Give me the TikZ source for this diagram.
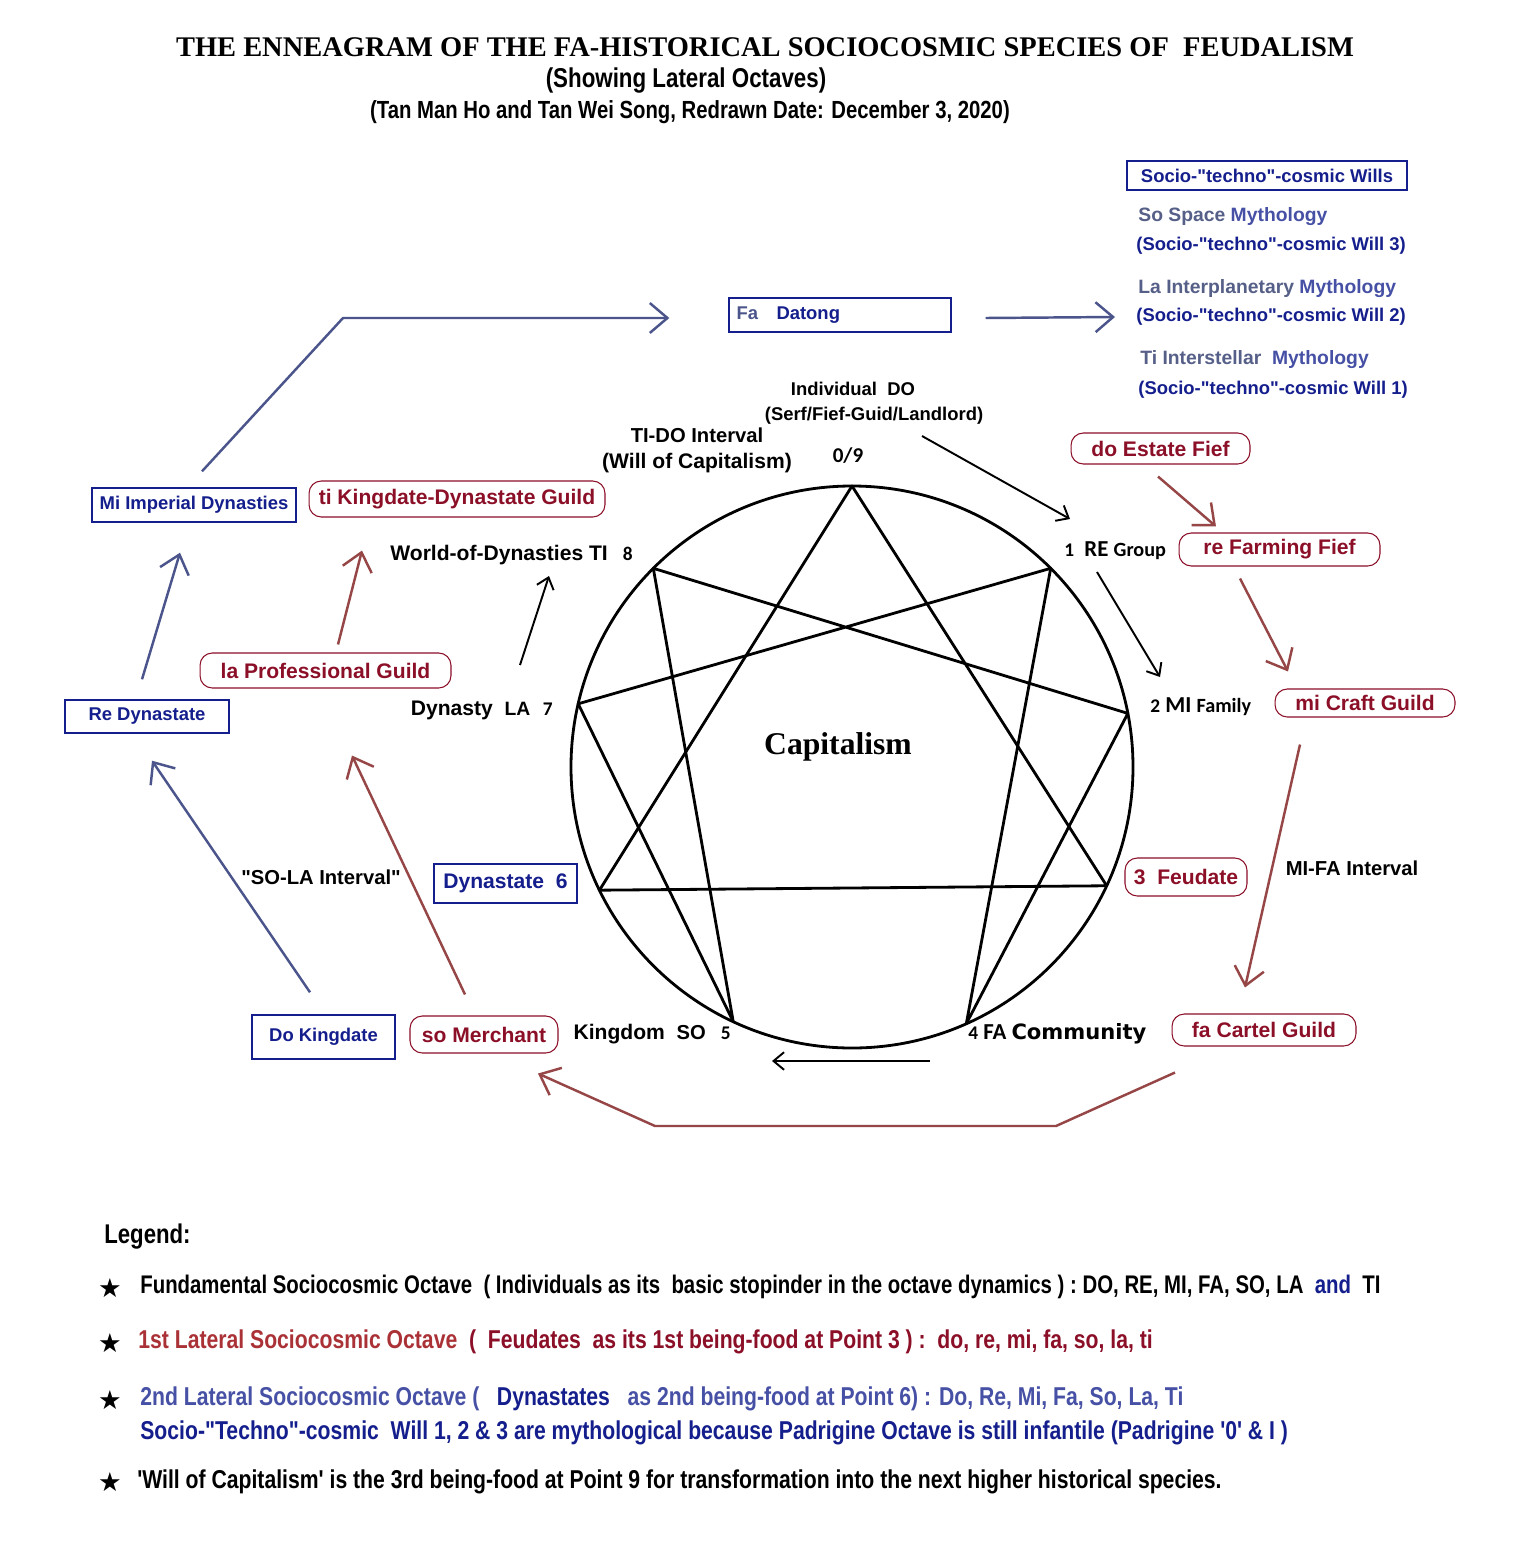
\documentclass[tikz,border=0pt]{standalone}
\usepackage{fontspec}
\setmainfont{Liberation Sans}[Ligatures=TeXOff]
\newfontfamily\titlefont{Liberation Serif}
\newfontfamily\numfont{Carlito}
\newfontfamily\symfont{DejaVu Sans}
\usepackage{tikz}
\usetikzlibrary{calc, arrows.meta}
\definecolor{navy}{RGB}{20,30,140}
\definecolor{slate}{RGB}{75,85,140}
\definecolor{greyblue}{RGB}{85,95,135}
\definecolor{midblue}{RGB}{70,80,165}
\definecolor{wine}{RGB}{140,15,40}
\definecolor{rust}{RGB}{150,70,70}
\definecolor{lightwine}{RGB}{170,50,55}
\newcommand{\narrow}[1]{\scalebox{0.82}[1]{#1}}
\tikzstyle{bluebox}   = [rectangle, draw=navy, line width=0.8pt, text=navy, inner sep=0pt, font=\bfseries\fontsize{10.5}{12}\selectfont]
\tikzstyle{redbox}    = [rectangle, rounded corners=7pt, draw=wine, line width=0.6pt, text=wine, inner sep=0pt, font=\bfseries\fontsize{12}{14}\selectfont]
\tikzstyle{lbl}       = [inner sep=0pt, font=\bfseries\fontsize{12}{14}\selectfont]
\tikzstyle{smalllbl}  = [inner sep=0pt, font=\bfseries\fontsize{10.5}{12}\selectfont]
\tikzstyle{willtxt}   = [inner sep=0pt, anchor=west, font=\bfseries\fontsize{11}{13}\selectfont]
\tikzstyle{legendtxt} = [inner sep=0pt, anchor=west, font=\bfseries\fontsize{14.7}{16}\selectfont]
\tikzstyle{star}      = [inner sep=0pt, font=\symfont\fontsize{15}{16}\selectfont]
\tikzstyle{arrow}     = [line width=1.1pt, -{Straight Barb[length=6pt,width=10pt]}]
\tikzstyle{bluearrow} = [arrow, draw=slate, line width=1.4pt, -{Straight Barb[length=10pt,width=17pt]}]
\tikzstyle{redarrow}  = [arrow, draw=rust, line width=1.4pt, -{Straight Barb[length=10pt,width=17pt]}]
\tikzstyle{ennea}     = [line width=1.6pt, line join=round]

\begin{document}
\begin{tikzpicture}[x=0.02cm, y=0.02cm]
    \fill[white] (0,0) rectangle (1526,-1545);
    \useasboundingbox (0,0) rectangle (1526,-1545);

    % title
    \node (title)    at (765,-47)  {\titlefont\bfseries\fontsize{16.2}{18}\selectfont THE ENNEAGRAM OF THE FA-HISTORICAL SOCIOCOSMIC SPECIES OF\ \ FEUDALISM};
    \node (subtitle) at (686,-81)  {\narrow{\bfseries\fontsize{15.5}{18}\selectfont (Showing Lateral Octaves)}};
    \node (authors)  at (690,-112) {\narrow{\bfseries\fontsize{14.1}{16}\selectfont (Tan Man Ho and Tan Wei Song, Redrawn Date: December 3, 2020)}};

    % socio-techno-cosmic wills
    \node (wills) [bluebox, minimum width=5.6cm, minimum height=0.58cm] at (1267,-175.5) {Socio-"techno"-cosmic Wills};
    \node (so3)   [willtxt] at (1138,-217) {\textcolor{greyblue}{So Space}\ \textcolor{midblue}{Mythology}};
    \node (will3) [willtxt, text=navy, font=\bfseries\fontsize{10.5}{12}\selectfont] at (1136,-246) {(Socio-"techno"-cosmic Will 3)};
    \node (la2)   [willtxt] at (1138,-289) {\textcolor{greyblue}{La Interplanetary}\ \textcolor{midblue}{Mythology}};
    \node (will2) [willtxt, text=navy, font=\bfseries\fontsize{10.5}{12}\selectfont] at (1136,-317) {(Socio-"techno"-cosmic Will 2)};
    \node (ti1)   [willtxt] at (1140,-360) {\textcolor{greyblue}{Ti Interstellar}\ \ \textcolor{midblue}{Mythology}};
    \node (will1) [willtxt, text=navy, font=\bfseries\fontsize{10.5}{12}\selectfont] at (1138,-390) {(Socio-"techno"-cosmic Will 1)};

    % second lateral octave
    \node (datong) [bluebox, minimum height=0.68cm, text width=4.14cm, inner xsep=0.15cm, align=left] at (840,-315) {\textcolor{slate}{Fa}\ \ \ Datong};
    \node (miImp)  [bluebox, minimum width=4.08cm, minimum height=0.68cm] at (194,-505) {Mi Imperial Dynasties};
    \node (reDyn)  [bluebox, minimum width=3.28cm, minimum height=0.66cm] at (147,-716.5) {Re Dynastate\hspace{0.1cm}};
    \node (doKing) [bluebox, minimum width=2.86cm, minimum height=0.88cm] at (323.5,-1037) {Do Kingdate};
    \node (dyn6)   [bluebox, minimum width=2.86cm, minimum height=0.78cm, font=\bfseries\fontsize{12}{14}\selectfont] at (505.5,-883.5) {Dynastate\ \ 6};

    % first lateral octave
    \node (doEst)   [redbox, minimum width=3.58cm, minimum height=0.62cm] at (1160.5,-448.5) {do Estate Fief\hspace{0.25cm}};
    \node (reFarm)  [redbox, minimum width=4.02cm, minimum height=0.66cm] at (1279.5,-549.5) {re Farming Fief};
    \node (miCraft) [redbox, minimum width=3.6cm,  minimum height=0.56cm] at (1365,-703) {mi Craft Guild};
    \node (feud)    [redbox, minimum width=2.44cm, minimum height=0.76cm] at (1186,-877) {3\ \ Feudate};
    \node (faCart)  [redbox, minimum width=3.68cm, minimum height=0.64cm] at (1264,-1030) {fa Cartel Guild\hspace{0.2cm}};
    \node (soMer)   [redbox, minimum width=2.96cm, minimum height=0.74cm] at (484,-1034.5) {so Merchant};
    \node (laProf)  [redbox, minimum width=5.02cm, minimum height=0.70cm] at (325.5,-670.5) {la Professional Guild};
    \node (tiKing)  [redbox, minimum width=5.92cm, minimum height=0.72cm] at (457,-499) {ti Kingdate-Dynastate Guild};

    % fundamental octave labels
    \node (indDO)  [smalllbl] at (853,-389) {Individual\ \ DO};
    \node (serf)   [smalllbl] at (874,-416) {(Serf/Fief-Guid/Landlord)};
    \node (tido)   [lbl, font=\bfseries\fontsize{11.5}{13}\selectfont] at (697,-435) {TI-DO Interval};
    \node (will)   [lbl] at (697,-463) {(Will of Capitalism)};
    \node (n09)    [lbl, font=\numfont\bfseries\fontsize{12}{14}\selectfont] at (848,-456) {0/9};
    \node (lbl1)   [lbl, anchor=west, font=\numfont\bfseries\fontsize{13}{14}\selectfont] at (1064,-551) {{\fontsize{11}{12}\selectfont 1}\ \ RE {\fontsize{11.5}{12}\selectfont Group}};
    \node (lbl2)   [lbl, anchor=west, font=\numfont\bfseries\fontsize{13}{14}\selectfont] at (1150,-707) {{\fontsize{11}{12}\selectfont 2}\ MI {\fontsize{11.5}{12}\selectfont Family}};
    \node (lbl4)   [lbl, anchor=west, font=\numfont\bfseries\fontsize{13}{14}\selectfont] at (968,-1034) {{\fontsize{11}{12}\selectfont 4}\ FA {\symfont\fontsize{12}{13}\selectfont Community}};
    \node (lbl5)   [lbl, anchor=east] at (731,-1034) {Kingdom\ \ {\fontsize{11.5}{12}\selectfont SO}\hspace{0.3cm}{\numfont\fontsize{11}{12}\selectfont 5}};
    \node (lbl7)   [lbl, anchor=east] at (553,-710) {Dynasty\ \ {\fontsize{11}{12}\selectfont LA}\hspace{0.25cm}{\numfont\fontsize{11}{12}\selectfont 7}};
    \node (lbl8)   [lbl, anchor=east] at (633,-555) {World-of-Dynasties TI\hspace{0.3cm}{\numfont\fontsize{11}{12}\selectfont 8}};
    \node (mifa)   [lbl, font=\bfseries\fontsize{11.5}{13}\selectfont] at (1352,-868) {MI-FA Interval};
    \node (sola)   [lbl, font=\bfseries\fontsize{11.5}{13}\selectfont] at (321,-877) {"SO-LA Interval"};

    % enneagram
    \coordinate (ctr) at (852,-767);
    \draw[ennea] (ctr) circle (281);
    \foreach \n/\a in {9/90, 1/45, 2/11, 3/-25, 4/-66, 5/-115, 6/-154, 7/167, 8/135}
        \coordinate (p\n) at ($(ctr)+(\a:281)$);
    \draw[ennea] (p9) -- (p3) -- (p6) -- cycle;
    \draw[ennea] (p1) -- (p4) -- (p2) -- (p8) -- (p5) -- (p7) -- cycle;
    \node (cap) at (838,-747) {\titlefont\bfseries\fontsize{18}{20}\selectfont Capitalism};

    % arrows
    \coordinate (bendA) at (343,-318);
    \coordinate (bendB) at (1056,-1126);
    \coordinate (bendC) at (655,-1126);
    \draw [bluearrow] ($(miImp.north)+(8,16)$) -- (bendA) -- ($(datong.west)+(-59,-3)$);
    \draw [bluearrow] ($(datong.east)+(34,-3)$) -- ($(will2.west)+(-21,0)$);
    \draw [bluearrow] ($(reDyn.north)+(-5,20)$) -- ($(miImp.south)+(-14,-30)$);
    \draw [bluearrow] ($(doKing.north)+(-13.5,22)$) -- ($(reDyn.south)+(5,-27)$);
    \draw [redarrow]  ($(doEst.south)+(-2.5,-12)$) -- ($(reFarm.north)+(-63.5,6)$);
    \draw [redarrow]  ($(reFarm.south)+(-39.5,-12)$) -- ($(miCraft.north)+(-77,17)$);
    \draw [redarrow]  ($(miCraft.south)+(-65,-27)$) -- ($(faCart.north)+(-19,26)$);
    \draw [redarrow]  ($(faCart.south)+(-89,-26)$) -- (bendB) -- (bendC) -- ($(soMer.south)+(54,-20)$);
    \draw [redarrow]  ($(soMer.north)+(-19,21)$) -- ($(laProf.south)+(26.5,-67)$);
    \draw [redarrow]  ($(laProf.north)+(12.5,8)$) -- ($(tiKing.south)+(-95,-33)$);
    \draw [arrow] ($(serf.center)+(48,-20)$) -- ($(lbl1.west)+(6,32)$);
    \draw [arrow] ($(lbl1.west)+(33,-21)$) -- ($(lbl2.west)+(10,30)$);
    \draw [arrow] ($(lbl4.west)+(-38,-27)$) -- ($(lbl5.east)+(41,-27)$);
    \draw [arrow] ($(lbl7.east)+(-33,45)$) -- ($(lbl8.east)+(-84,-21)$);

    % legend
    \node (legend) [legendtxt] at (104,-1237) {\narrow{\fontsize{15.4}{17}\selectfont Legend:}};
    \node (s1) [star] at (110,-1288) {★};
    \node (s2) [star] at (110,-1343) {★};
    \node (s3) [star] at (110,-1400) {★};
    \node (s4) [star] at (110,-1482) {★};
    \node (leg1) [legendtxt] at (140,-1287) {\scalebox{0.8}[1]{\fontsize{14.5}{16}\selectfont Fundamental Sociocosmic Octave\ \ ( Individuals as its\ \ basic stopinder in the octave dynamics ) :\ DO, RE, MI,\ FA, SO, LA\ \ \textcolor{navy}{and}\ \ TI}};
    \node (leg2) [legendtxt] at (138,-1342) {\narrow{\textcolor{lightwine}{1st Lateral Sociocosmic Octave}\ \ \textcolor{wine}{(\ \ Feudates\ \ as its 1st being-food at Point 3 ) :\ \ do, re, mi, fa, so, la, ti}}};
    \node (leg3) [legendtxt, text=midblue] at (140,-1399) {\narrow{2nd Lateral Sociocosmic Octave (\ \ \ \textcolor{navy}{Dynastates}\ \ \ as 2nd being-food at Point 6) : Do, Re, Mi, Fa, So, La, Ti}};
    \node (leg4) [legendtxt, text=navy] at (140,-1433) {\narrow{Socio-"Techno"-cosmic\ \ Will 1, 2 \& 3 are mythological because Padrigine Octave is still infantile (Padrigine '0' \& I )}};
    \node (leg5) [legendtxt] at (137,-1482) {\narrow{'Will of Capitalism' is the 3rd being-food at Point 9 for transformation into the next higher historical species.}};
\end{tikzpicture}
\end{document}
